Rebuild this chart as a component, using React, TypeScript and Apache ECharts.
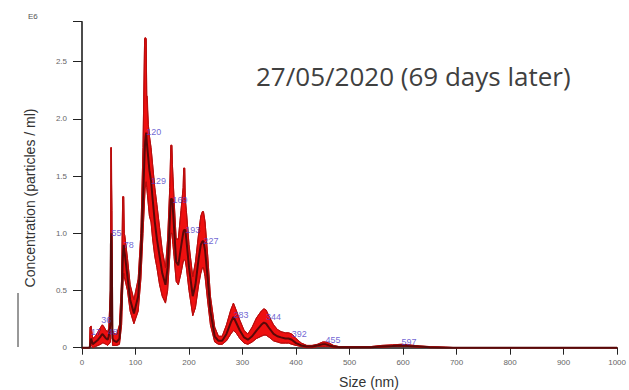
import React, { useEffect, useRef } from "react";
import * as echarts from "echarts";

const sizes = [0, 10, 14, 15, 17, 19, 20, 25, 30, 35, 38, 40, 45, 48, 50, 53, 54, 55, 56, 57, 60, 65, 70, 74, 76, 77, 78, 79, 80, 85, 90, 97, 105, 110, 114, 117, 118, 119, 120, 121, 122, 124, 126, 129, 132, 136, 140, 145, 150, 156, 160, 164, 166, 167, 168, 169, 170, 172, 176, 180, 185, 189, 190, 191, 192, 193, 195, 200, 207, 212, 218, 222, 225, 227, 230, 235, 240, 248, 255, 262, 270, 278, 283, 288, 295, 303, 310, 318, 326, 335, 340, 344, 350, 358, 365, 372, 380, 386, 392, 400, 410, 420, 430, 440, 450, 455, 462, 470, 480, 500, 520, 540, 560, 580, 597, 610, 630, 650, 680, 700, 1000];

const lowerVals = [0, 0, 0, 0, 0.02, 0.01, 0, 0.01, 0.02, 0.03, 0.04, 0.04, 0.03, 0.02, 0.03, 0.05, 0.3, 0.35, 0.2, 0.02, 0.02, 0.02, 0.03, 0.2, 0.5, 0.6, 0.65, 0.62, 0.6, 0.5, 0.32, 0.21, 0.32, 0.6, 1.0, 1.3, 1.4, 1.4, 1.45, 1.4, 1.35, 1.25, 1.15, 1.1, 0.95, 0.8, 0.7, 0.55, 0.45, 0.39, 0.5, 0.8, 1.0, 1.0, 1.0, 0.95, 0.9, 0.8, 0.58, 0.55, 0.65, 0.75, 0.76, 0.77, 0.77, 0.76, 0.7, 0.5, 0.28, 0.35, 0.55, 0.65, 0.7, 0.7, 0.62, 0.4, 0.2, 0.05, 0.03, 0.03, 0.06, 0.12, 0.15, 0.13, 0.08, 0.04, 0.03, 0.05, 0.08, 0.1, 0.11, 0.11, 0.09, 0.06, 0.05, 0.04, 0.04, 0.04, 0.03, 0.02, 0.01, 0, 0, 0.01, 0.01, 0.01, 0.01, 0, 0, 0, 0, 0, 0.005, 0.01, 0.01, 0.01, 0.005, 0, 0, 0, 0];

const meanVals = [0, 0, 0, 0.02, 0.08, 0.05, 0.03, 0.05, 0.07, 0.1, 0.12, 0.11, 0.08, 0.07, 0.1, 0.2, 0.9, 1.0, 0.6, 0.08, 0.06, 0.05, 0.08, 0.4, 0.75, 0.85, 0.9, 0.85, 0.82, 0.62, 0.42, 0.3, 0.45, 0.8, 1.3, 1.7, 1.8, 1.85, 1.88, 1.8, 1.75, 1.65, 1.55, 1.46, 1.3, 1.1, 0.95, 0.8, 0.65, 0.55, 0.7, 1.1, 1.3, 1.3, 1.3, 1.29, 1.2, 1.05, 0.75, 0.72, 0.88, 1.0, 1.02, 1.03, 1.03, 1.03, 0.95, 0.7, 0.45, 0.55, 0.78, 0.9, 0.93, 0.93, 0.85, 0.6, 0.32, 0.1, 0.06, 0.06, 0.12, 0.22, 0.27, 0.22, 0.15, 0.09, 0.07, 0.1, 0.15, 0.2, 0.22, 0.21, 0.17, 0.12, 0.1, 0.09, 0.08, 0.08, 0.07, 0.04, 0.02, 0.01, 0.01, 0.02, 0.03, 0.03, 0.02, 0.01, 0.005, 0.005, 0.005, 0.005, 0.01, 0.015, 0.02, 0.015, 0.01, 0.005, 0, 0, 0];

const upperVals = [0, 0, 0, 0.18, 0.19, 0.12, 0.08, 0.1, 0.14, 0.18, 0.2, 0.19, 0.15, 0.14, 0.17, 0.5, 1.75, 1.75, 1.2, 0.15, 0.12, 0.12, 0.2, 0.6, 1.32, 1.32, 1.32, 1.0, 0.98, 0.78, 0.55, 0.42, 0.6, 1.0, 1.75, 2.7, 2.71, 2.71, 2.7, 2.2, 2.2, 1.95, 1.85, 1.75, 1.6, 1.4, 1.25, 1.05, 0.85, 0.7, 0.95, 1.4, 1.77, 1.77, 1.77, 1.6, 1.5, 1.3, 0.95, 0.95, 1.2, 1.4, 1.57, 1.57, 1.57, 1.3, 1.2, 0.9, 0.62, 0.75, 1.0, 1.15, 1.19, 1.19, 1.1, 0.8, 0.45, 0.18, 0.1, 0.1, 0.2, 0.33, 0.39, 0.33, 0.24, 0.15, 0.12, 0.18, 0.26, 0.32, 0.34, 0.33, 0.27, 0.2, 0.16, 0.14, 0.13, 0.13, 0.12, 0.08, 0.04, 0.02, 0.02, 0.03, 0.05, 0.05, 0.04, 0.02, 0.01, 0.01, 0.01, 0.01, 0.02, 0.025, 0.03, 0.025, 0.015, 0.01, 0.005, 0, 0];

const peakSizes = [17, 36, 48, 55, 78, 120, 129, 169, 193, 227, 283, 344, 392, 455, 597];
const peakLabelHeights = [0.14, 0.24, 0.14, 1.0, 0.9, 1.89, 1.46, 1.29, 1.03, 0.93, 0.29, 0.27, 0.12, 0.07, 0.05];
const peakLabels = ["17", "36", "48", "55", "78", "120", "129", "169", "193", "227", "283", "344", "392", "455", "597"];

const yTicks = [0, 0.5, 1.0, 1.5, 2.0, 2.5];
const xTicks = [0, 100, 200, 300, 400, 500, 600, 700, 800, 900, 1000];

export default function App() {
  const ref = useRef<HTMLDivElement>(null);
  useEffect(() => {
    if (!ref.current) return;
    const chart = echarts.init(ref.current, undefined, { renderer: "svg" });
    const bandData = sizes.map((s, i) => [s, lowerVals[i], upperVals[i]]);
    const upperData = sizes.map((s, i) => [s, upperVals[i]]);
    const lowerData = sizes.map((s, i) => [s, lowerVals[i]]);
    const meanData = sizes.map((s, i) => [s, meanVals[i]]);
    const labelData = peakSizes.map((s, i) => ({ name: peakLabels[i], value: [s, peakLabelHeights[i]] }));
    const tickFont = { color: "#666", fontSize: 8, fontFamily: "Liberation Sans" };
    chart.setOption({
      animation: false,
      grid: { left: 82, right: 3.3, top: 21.7, bottom: 42.3, containLabel: false },
      xAxis: {
        type: "value",
        min: xTicks[0],
        max: xTicks[xTicks.length - 1],
        interval: 100,
        splitLine: { show: false },
        axisLine: { show: true, onZero: false, lineStyle: { color: "#111", width: 1.5 } },
        axisTick: { show: true, length: 7, lineStyle: { color: "#222", width: 1 } },
        axisLabel: { ...tickFont, margin: 11, formatter: (v: number) => String(v) },
      },
      yAxis: {
        type: "value",
        min: 0,
        max: 2.85,
        interval: 0.5,
        splitLine: { show: false },
        axisLine: { show: true, lineStyle: { color: "#111", width: 1.5 } },
        axisTick: { show: true, length: 9, lineStyle: { color: "#222", width: 1 } },
        axisLabel: {
          ...tickFont,
          margin: 15,
          formatter: (v: number) => (yTicks.indexOf(v) >= 0 ? (v === 0 ? "0" : v.toFixed(1)) : ""),
        },
      },
      series: [
        {
          type: "custom",
          data: bandData,
          silent: true,
          z: 1,
          renderItem: (params: any, api: any) => {
            if (params.dataIndex !== 0) return null;
            const top = bandData.map((d) => api.coord([d[0], d[2]]));
            const bottom = bandData.map((d) => api.coord([d[0], d[1]])).reverse();
            return {
              type: "polygon",
              shape: { points: top.concat(bottom) },
              style: { fill: "#ee1010", stroke: "#c00c0c", lineWidth: 1 },
            };
          },
        },
        {
          type: "line",
          data: upperData,
          symbol: "none",
          z: 2,
          lineStyle: { width: 1, color: "#b80d0d" },
          silent: true,
        },
        {
          type: "line",
          data: lowerData,
          symbol: "none",
          z: 2,
          lineStyle: { width: 1, color: "#b80d0d" },
          silent: true,
        },
        {
          type: "line",
          data: meanData,
          symbol: "none",
          z: 3,
          lineStyle: { width: 2, color: "#5a0808" },
          silent: true,
        },
        {
          type: "scatter",
          data: labelData,
          symbolSize: 0,
          silent: true,
          z: 4,
          label: {
            show: true,
            position: "right",
            distance: 0,
            formatter: (p: any) => p.name,
            color: "#4b3cc8",
            fontSize: 9,
            fontFamily: "Liberation Sans",
          },
        },
      ],
      graphic: [
        {
          type: "text",
          left: 28,
          top: 12,
          z: 100,
          style: { text: "E6", fill: "#555", fontSize: 8, fontFamily: "Liberation Sans" },
        },
        {
          type: "text",
          x: 256,
          y: 76,
          z: 100,
          style: {
            text: "27/05/2020 (69 days later)",
            fill: "#404040",
            fontSize: 26,
            fontFamily: "Open Sans",
            textVerticalAlign: "middle",
          },
        },
        {
          type: "text",
          x: 30,
          y: 198,
          rotation: Math.PI / 2,
          z: 100,
          style: {
            text: "Concentration (particles / ml)",
            fill: "#333",
            fontSize: 14,
            fontFamily: "Liberation Sans",
            textAlign: "center",
            textVerticalAlign: "middle",
          },
        },
        {
          type: "text",
          x: 369,
          y: 382,
          z: 100,
          style: {
            text: "Size (nm)",
            fill: "#333",
            fontSize: 14,
            fontFamily: "Liberation Sans",
            textAlign: "center",
            textVerticalAlign: "middle",
          },
        },
        {
          type: "line",
          z: 100,
          shape: { x1: 18, y1: 293, x2: 18, y2: 347 },
          style: { stroke: "#333", lineWidth: 1 },
        },
      ],
    });
    return () => chart.dispose();
  }, []);
  return <div ref={ref} style={{ width: 629, height: 390, position: "absolute", left: 0, top: 0, background: "#fff" }} />;
}
